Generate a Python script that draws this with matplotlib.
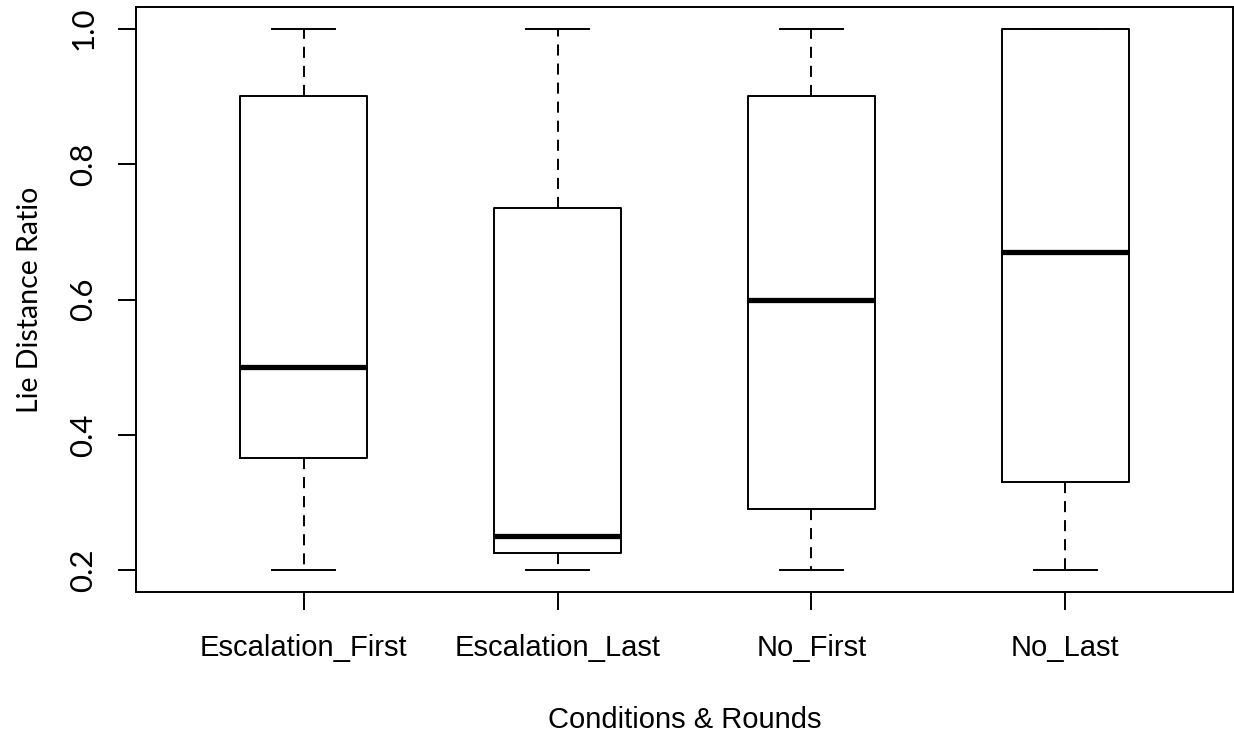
import matplotlib
matplotlib.use("Agg")
import matplotlib.pyplot as plt

# five-number summaries
conditions = ["Escalation_First", "Escalation_Last", "No_First", "No_Last"]
whisker_low = [0.2, 0.2, 0.2, 0.2]
q1 = [0.366, 0.225, 0.29, 0.33]
medians = [0.5, 0.25, 0.6, 0.67]
q3 = [0.9, 0.735, 0.9, 1.0]
whisker_high = [1.0, 1.0, 1.0, 1.0]
y_ticks = [0.2, 0.4, 0.6, 0.8, 1.0]

stats = []
for i in range(len(conditions)):
    stats.append({
        "label": conditions[i],
        "whislo": whisker_low[i],
        "q1": q1[i],
        "med": medians[i],
        "q3": q3[i],
        "whishi": whisker_high[i],
    })

plt.rcParams["font.family"] = "Liberation Sans"

fig = plt.figure(figsize=(12.34, 7.36), dpi=100)
ax = fig.add_axes([136 / 1234, (736 - 592) / 736, (1233 - 136) / 1234, (592 - 7) / 736])

lw = 1.4
positions = list(range(1, len(conditions) + 1))
ax.bxp(stats, positions=positions, widths=0.5, capwidths=0.25,
       showfliers=False, patch_artist=False,
       boxprops=dict(color="black", linewidth=lw),
       whiskerprops=dict(color="black", linewidth=lw, linestyle=(0, (5.7, 4.1))),
       capprops=dict(color="black", linewidth=lw),
       medianprops=dict(color="black", linewidth=3.8, solid_capstyle="butt"))

ax.set_xlim(0.34, 4.66)
ax.set_ylim(0.168, 1.032)

ax.set_xticks(positions)
ax.set_xticklabels(conditions, fontsize=21)
ax.set_yticks(y_ticks)
ax.set_yticklabels([f"{v:.1f}" for v in y_ticks], fontsize=22.5, family="Lato",
                   rotation=90, va="center")
ax.tick_params(axis="x", length=13, width=lw, pad=17)
ax.tick_params(axis="y", length=13, width=lw, pad=15)

for s in ax.spines.values():
    s.set_linewidth(lw)

ax.set_xlabel("Conditions & Rounds", fontsize=21, labelpad=32)
ax.set_ylabel("Lie Distance Ratio", fontsize=20.5, family="Lato", labelpad=19)

fig.savefig("out.png", dpi=100)
